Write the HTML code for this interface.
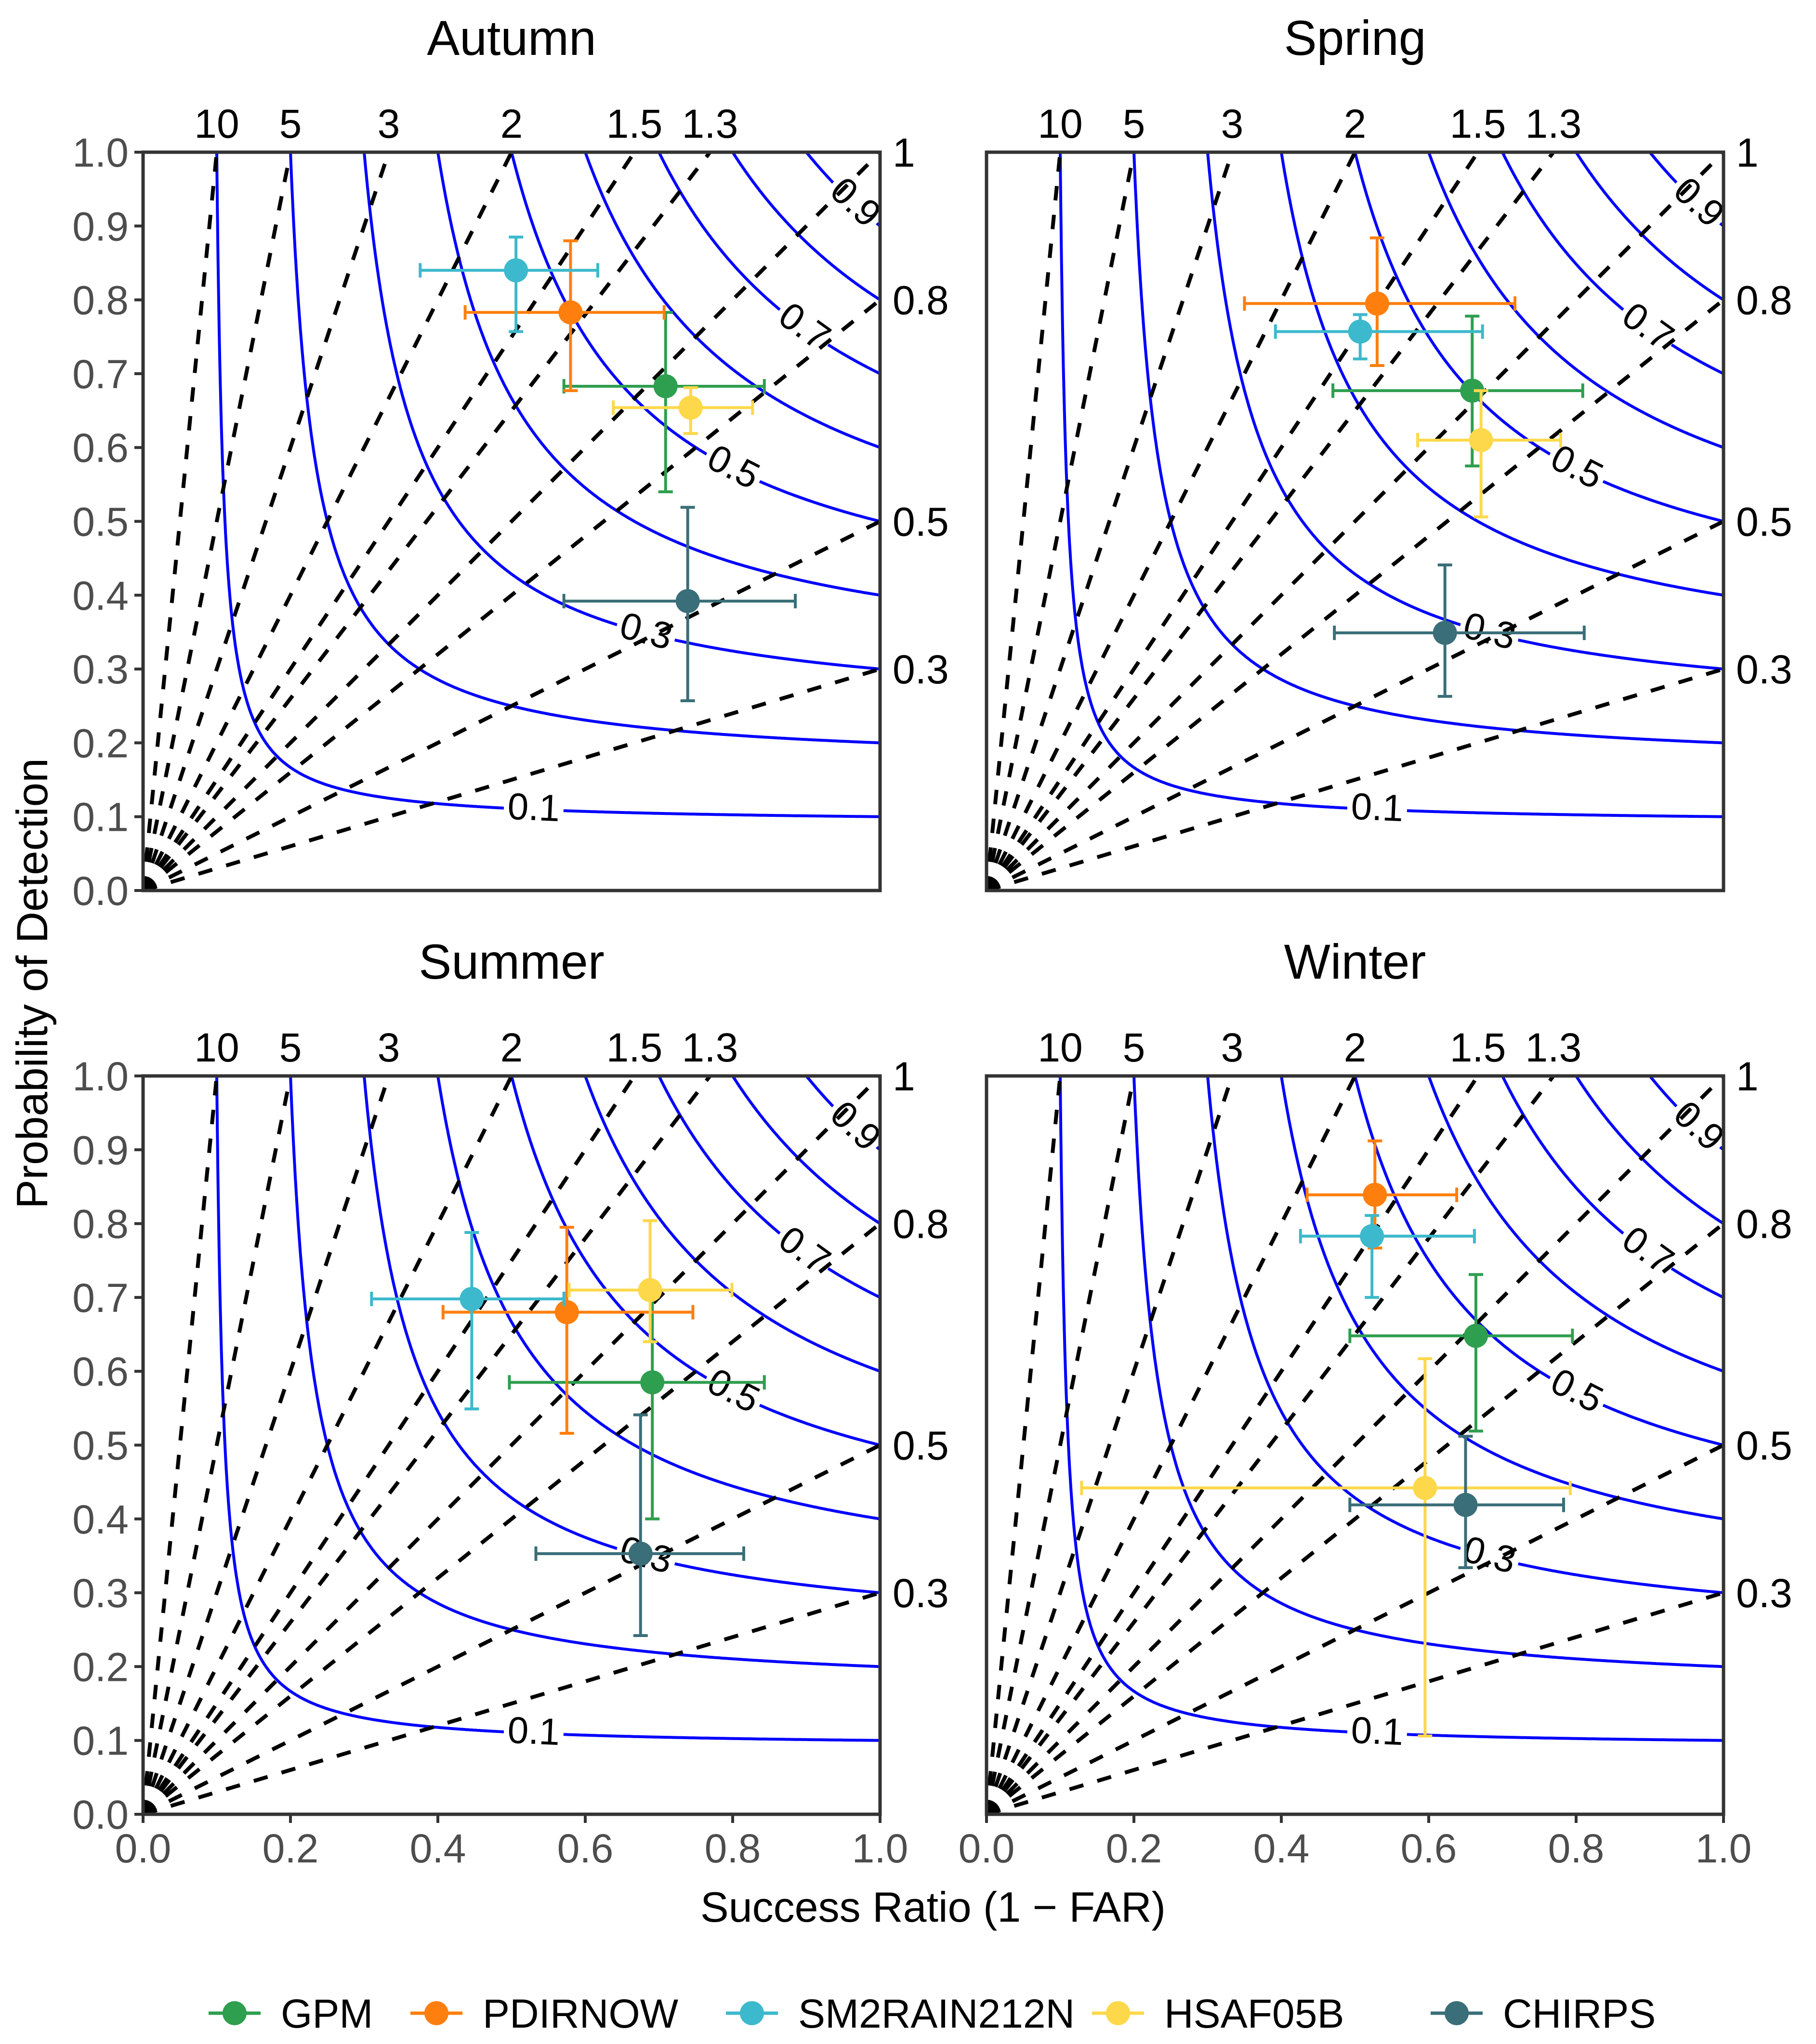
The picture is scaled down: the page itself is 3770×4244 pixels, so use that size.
<!DOCTYPE html>
<html><head><meta charset="utf-8"><style>
html,body{margin:0;padding:0;background:#fff;}
svg{display:block;font-family:"Liberation Sans",Arial,sans-serif;}
</style></head><body>
<svg id="chart" width="3770" height="4244" viewBox="0 0 3770 4244" xmlns="http://www.w3.org/2000/svg">
<rect width="3770" height="4244" fill="#fff"/>
<text x="0" y="0" transform="translate(98,2042) rotate(-90)" text-anchor="middle" font-size="91" fill="#000">Probability of Detection</text>
<text x="1937" y="3990" text-anchor="middle" font-size="88" fill="#000">Success Ratio (1 − FAR)</text>
</svg>
<script>
const seasons = ["Autumn","Spring","Summer","Winter"];
const products = ["GPM","PDIRNOW","SM2RAIN212N","HSAF05B","CHIRPS"];
const colors = ["#2e9e4f","#ff7f0e","#3cb9cc","#fdd84a","#3a6e78"];
const biasLevels = [10,5,3,2,1.5,1.3,1,0.8,0.5,0.3];
const biasTopLabels = ["10","5","3","2","1.5","1.3"];
const biasRightLabels = ["1","0.8","0.5","0.3"];
const csiLevels = [0.1,0.2,0.3,0.4,0.5,0.6,0.7,0.8,0.9];
const csiLabelLevels = [0.1,0.3,0.5,0.7,0.9];
const csiLabelSR = [0.53,0.682,0.80,0.896,0.965];
const axisTicks = [0,0.1,0.2,0.3,0.4,0.5,0.6,0.7,0.8,0.9,1.0];
const xTicks = [0,0.2,0.4,0.6,0.8,1.0];
const srVals = [[0.709,0.580,0.506,0.743,0.739],[0.659,0.530,0.507,0.671,0.622],[0.691,0.575,0.446,0.688,0.675],[0.664,0.527,0.523,0.595,0.650]];
const podVals = [[0.683,0.783,0.840,0.654,0.392],[0.677,0.795,0.757,0.610,0.349],[0.585,0.680,0.698,0.710,0.353],[0.648,0.839,0.783,0.442,0.419]];
const srLow = [[0.571,0.437,0.376,0.638,0.571],[0.470,0.350,0.392,0.585,0.472],[0.497,0.407,0.310,0.578,0.533],[0.493,0.435,0.426,0.129,0.493]];
const srHigh = [[0.843,0.707,0.617,0.827,0.885],[0.809,0.717,0.673,0.779,0.811],[0.843,0.746,0.571,0.799,0.815],[0.795,0.638,0.662,0.792,0.783]];
const podLow = [[0.540,0.677,0.757,0.619,0.257],[0.575,0.711,0.720,0.506,0.263],[0.400,0.516,0.549,0.640,0.242],[0.519,0.767,0.700,0.106,0.334]];
const podHigh = [[0.783,0.880,0.885,0.681,0.519],[0.778,0.884,0.780,0.677,0.441],[0.700,0.795,0.788,0.804,0.541],[0.731,0.912,0.811,0.617,0.512]];

const NS="http://www.w3.org/2000/svg";
const svg=document.getElementById('chart');
function mk(tag,attrs,parent,text){const e=document.createElementNS(NS,tag);for(const k in attrs)e.setAttribute(k,attrs[k]);if(text!==undefined)e.textContent=text;(parent||svg).appendChild(e);return e;}
const PX=[297,2048], PY=[316,2234], W=1530, H=1533;

seasons.forEach((season,si)=>{
  const col=si%2,row=Math.floor(si/2);
  const x0=PX[col],y0=PY[row];
  const sx=v=>x0+v*W, sy=v=>y0+H-v*H;
  const g=mk('g',{});
  
  
  const cid='clip'+si;
  const cp=mk('clipPath',{id:cid},g); mk('rect',{x:x0,y:y0,width:W,height:H},cp);
  const t=mk('text',{x:x0+W/2,y:y0-202,'text-anchor':'middle','font-size':102,fill:'#000'},g,season);
  
  
  const inner=mk('g',{'clip-path':'url(#'+cid+')'},g);
  csiLevels.forEach(c=>{
    let pts=[];
    for(let i=0;i<=400;i++){const sr=c+(1-c)*Math.pow(i/400,1.6);const pod=1/(1/c-1/sr+1);pts.push(sx(sr).toFixed(1)+','+sy(Math.min(pod,1.02)).toFixed(1));}
    const p=mk('polyline',{points:pts.join(' '),fill:'none',stroke:'#0000ff','stroke-width':6},inner);
    
    
  });
  const labs=[];
  csiLabelLevels.forEach((c,li)=>{
    const sr=csiLabelSR[li];const pod=1/(1/c-1/sr+1);
    const d=0.001;const pod2=1/(1/c-1/(sr+d)+1);
    const ang=Math.atan2(sy(pod2)-sy(pod),sx(sr+d)-sx(sr))*180/Math.PI;
    const cx=sx(sr),cy=sy(pod);
    mk('rect',{x:cx-62,y:cy-36,width:124,height:72,fill:'#fff',transform:`rotate(${ang} ${cx} ${cy})`},inner);
    labs.push([c,cx,cy,ang]);
  });
  biasLevels.forEach(b=>{
    const ex=b>=1?1/b:1, ey=b>=1?1:b;
    const l=mk('line',{x1:sx(0),y1:sy(0),x2:sx(ex),y2:sy(ey),stroke:'#000','stroke-width':8,'stroke-dasharray':'30 30'},inner);
    
    
  });
  labs.forEach(([c,cx,cy,ang])=>{
    const tx=mk('text',{x:cx,y:cy+22,'text-anchor':'middle','font-size':78,fill:'#000',transform:`rotate(${ang} ${cx} ${cy})`},g,String(c));
    
    
  });
  biasTopLabels.forEach(s=>{
    const b=parseFloat(s);
    const tx=mk('text',{x:sx(1/b),y:y0-30,'text-anchor':'middle','font-size':84,fill:'#000'},g,s);
    
    
  });
  biasRightLabels.forEach(s=>{
    const b=parseFloat(s);
    const tx=mk('text',{x:x0+W+26,y:sy(b)+30,'text-anchor':'start','font-size':84,fill:'#000'},g,s);
    
    
  });
  const fr=mk('rect',{x:x0,y:y0,width:W,height:H,fill:'none',stroke:'#333','stroke-width':7},g);
  
  
  if(col===0){axisTicks.forEach(v=>{
    mk('line',{x1:x0-18,x2:x0,y1:sy(v),y2:sy(v),stroke:'#333','stroke-width':6},g);
    const tx=mk('text',{x:x0-30,y:sy(v)+30,'text-anchor':'end','font-size':84,fill:'#4d4d4d'},g,v.toFixed(1));
    
    
  });}
  if(row===1){xTicks.forEach(v=>{
    mk('line',{x1:sx(v),x2:sx(v),y1:y0+H,y2:y0+H+18,stroke:'#333','stroke-width':6},g);
    const tx=mk('text',{x:sx(v),y:y0+H+100,'text-anchor':'middle','font-size':84,fill:'#4d4d4d'},g,v.toFixed(1));
    
    
  });}
  products.forEach((p,pi)=>{
    const pg=mk('g',{stroke:colors[pi],'stroke-width':6,fill:colors[pi]},g);
    
    
    const X=sx(srVals[si][pi]),Y=sy(podVals[si][pi]);
    const xl=sx(srLow[si][pi]),xh=sx(srHigh[si][pi]),yl=sy(podLow[si][pi]),yh=sy(podHigh[si][pi]);
    mk('line',{x1:xl,x2:xh,y1:Y,y2:Y},pg);
    mk('line',{x1:xl,x2:xl,y1:Y-15,y2:Y+15},pg);
    mk('line',{x1:xh,x2:xh,y1:Y-15,y2:Y+15},pg);
    mk('line',{x1:X,x2:X,y1:yl,y2:yh},pg);
    mk('line',{x1:X-15,x2:X+15,y1:yl,y2:yl},pg);
    mk('line',{x1:X-15,x2:X+15,y1:yh,y2:yh},pg);
    mk('circle',{cx:X,cy:Y,r:25,stroke:'none'},pg);
  });
});
const legX=[433,852,1507,2267,2970];
products.forEach((p,pi)=>{
  const lg=mk('g',{});
  
  
  const x=legX[pi],y=4180;
  mk('line',{x1:x,x2:x+108,y1:y,y2:y,stroke:colors[pi],'stroke-width':7},lg);
  mk('circle',{cx:x+54,cy:y,r:25,fill:colors[pi]},lg);
  mk('text',{x:x+150,y:y+30,'font-size':84,fill:'#000'},lg,p);
});
</script>
</body></html>
